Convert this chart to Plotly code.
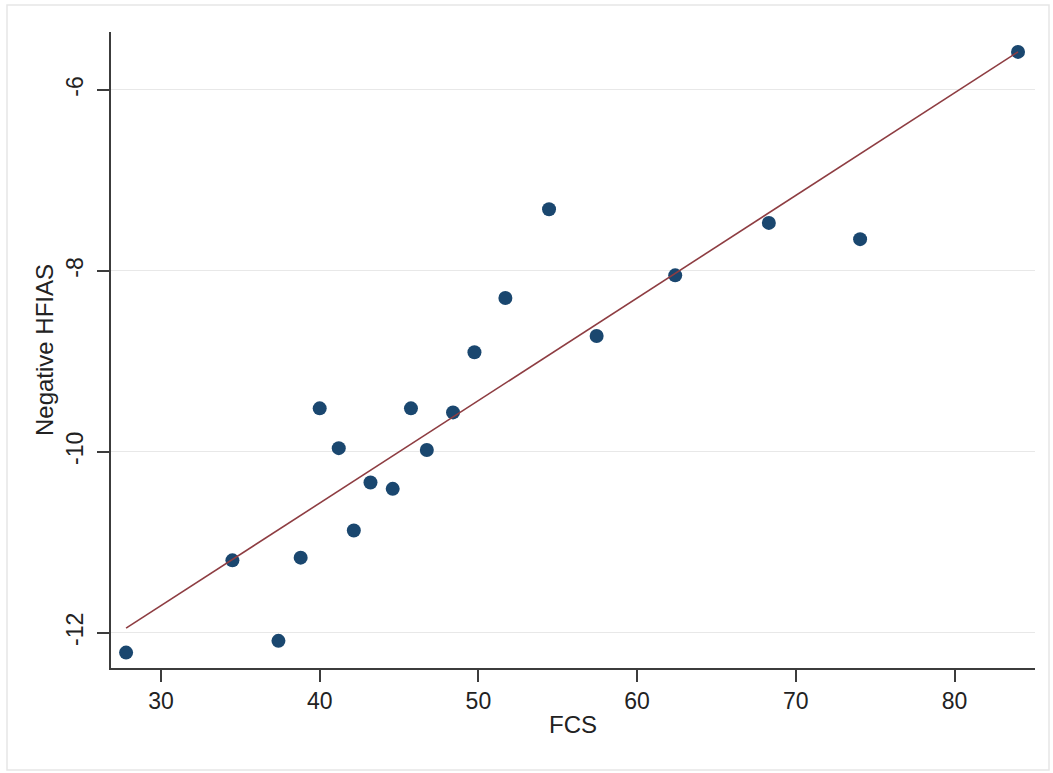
import plotly.graph_objects as go

# Data
fcs = [27.8, 34.5, 37.4, 38.8, 40.0, 41.2, 42.15, 43.2, 44.6, 45.75,
       46.75, 48.4, 49.75, 51.7, 54.45, 57.45, 62.4, 68.3, 74.05, 84.0]
neg_hfias = [-12.22, -11.20, -12.09, -11.17, -9.52, -9.96, -10.87, -10.34, -10.41, -9.52,
             -9.98, -9.565, -8.90, -8.30, -7.32, -8.72, -8.05, -7.47, -7.65, -5.58]

# Fitted line endpoints
fit_x = [27.8, 84.0]
fit_y = [-11.95, -5.58]

x_ticks = [30, 40, 50, 60, 70, 80]
y_ticks = [-12, -10, -8, -6]

W, H = 1053, 773
ML, MR, MT, MB = 111, 18, 32, 105
PW, PH = W - ML - MR, H - MT - MB

def px2paper_x(px):
    return (px - ML) / PW

def px2paper_y(py):
    return (H - MB - py) / PH

font_family = "Liberation Sans, Arial, Helvetica, sans-serif"
txt_color = "#222222"
axis_color = "#3c3c3c"

fig = go.Figure()

fig.add_trace(go.Scatter(
    x=fcs, y=neg_hfias, mode="markers",
    marker=dict(color="#1a476f", size=14, line=dict(width=0)),
    showlegend=False, hoverinfo="x+y"
))

fig.add_trace(go.Scatter(
    x=fit_x, y=fit_y, mode="lines",
    line=dict(color="#8e3d42", width=1.6),
    showlegend=False, hoverinfo="skip"
))

fig.update_layout(
    width=W, height=H,
    margin=dict(l=ML, r=MR, t=MT, b=MB, pad=0),
    paper_bgcolor="white",
    plot_bgcolor="white",
    font=dict(family=font_family, size=24, color=txt_color),
    xaxis=dict(
        range=[26.85, 85.07],
        tickvals=x_ticks,
        ticktext=[str(v) for v in x_ticks],
        showgrid=False, zeroline=False,
        showline=True, linecolor=axis_color, linewidth=1.5,
        ticks="outside", ticklen=12, tickwidth=1.5, tickcolor=axis_color,
        tickfont=dict(size=23, color=txt_color),
        title=dict(text="FCS", font=dict(size=24, color=txt_color), standoff=3),
        fixedrange=True,
    ),
    yaxis=dict(
        range=[-12.39, -5.36],
        tickvals=y_ticks,
        ticktext=[str(v) for v in y_ticks],
        tickangle=-90,
        ticklabelstandoff=5,
        showgrid=True, gridcolor="#e8e8e8", gridwidth=1,
        zeroline=False,
        showline=True, linecolor=axis_color, linewidth=1.5,
        ticks="outside", ticklen=12, tickwidth=1.5, tickcolor=axis_color,
        tickfont=dict(size=23, color=txt_color),
        title=dict(text="Negative HFIAS", font=dict(size=24, color=txt_color), standoff=2),
        fixedrange=True,
    ),
    shapes=[
        dict(type="rect", xref="paper", yref="paper",
             x0=px2paper_x(7), x1=px2paper_x(1049),
             y0=px2paper_y(770), y1=px2paper_y(5),
             line=dict(color="#e6e6e6", width=1.5),
             fillcolor="rgba(0,0,0,0)", layer="below"),
    ],
)

fig.write_html(
    "out.html",
    config={"displayModeBar": False},
    post_script="document.body.style.margin='0';document.body.style.overflow='hidden';",
)
